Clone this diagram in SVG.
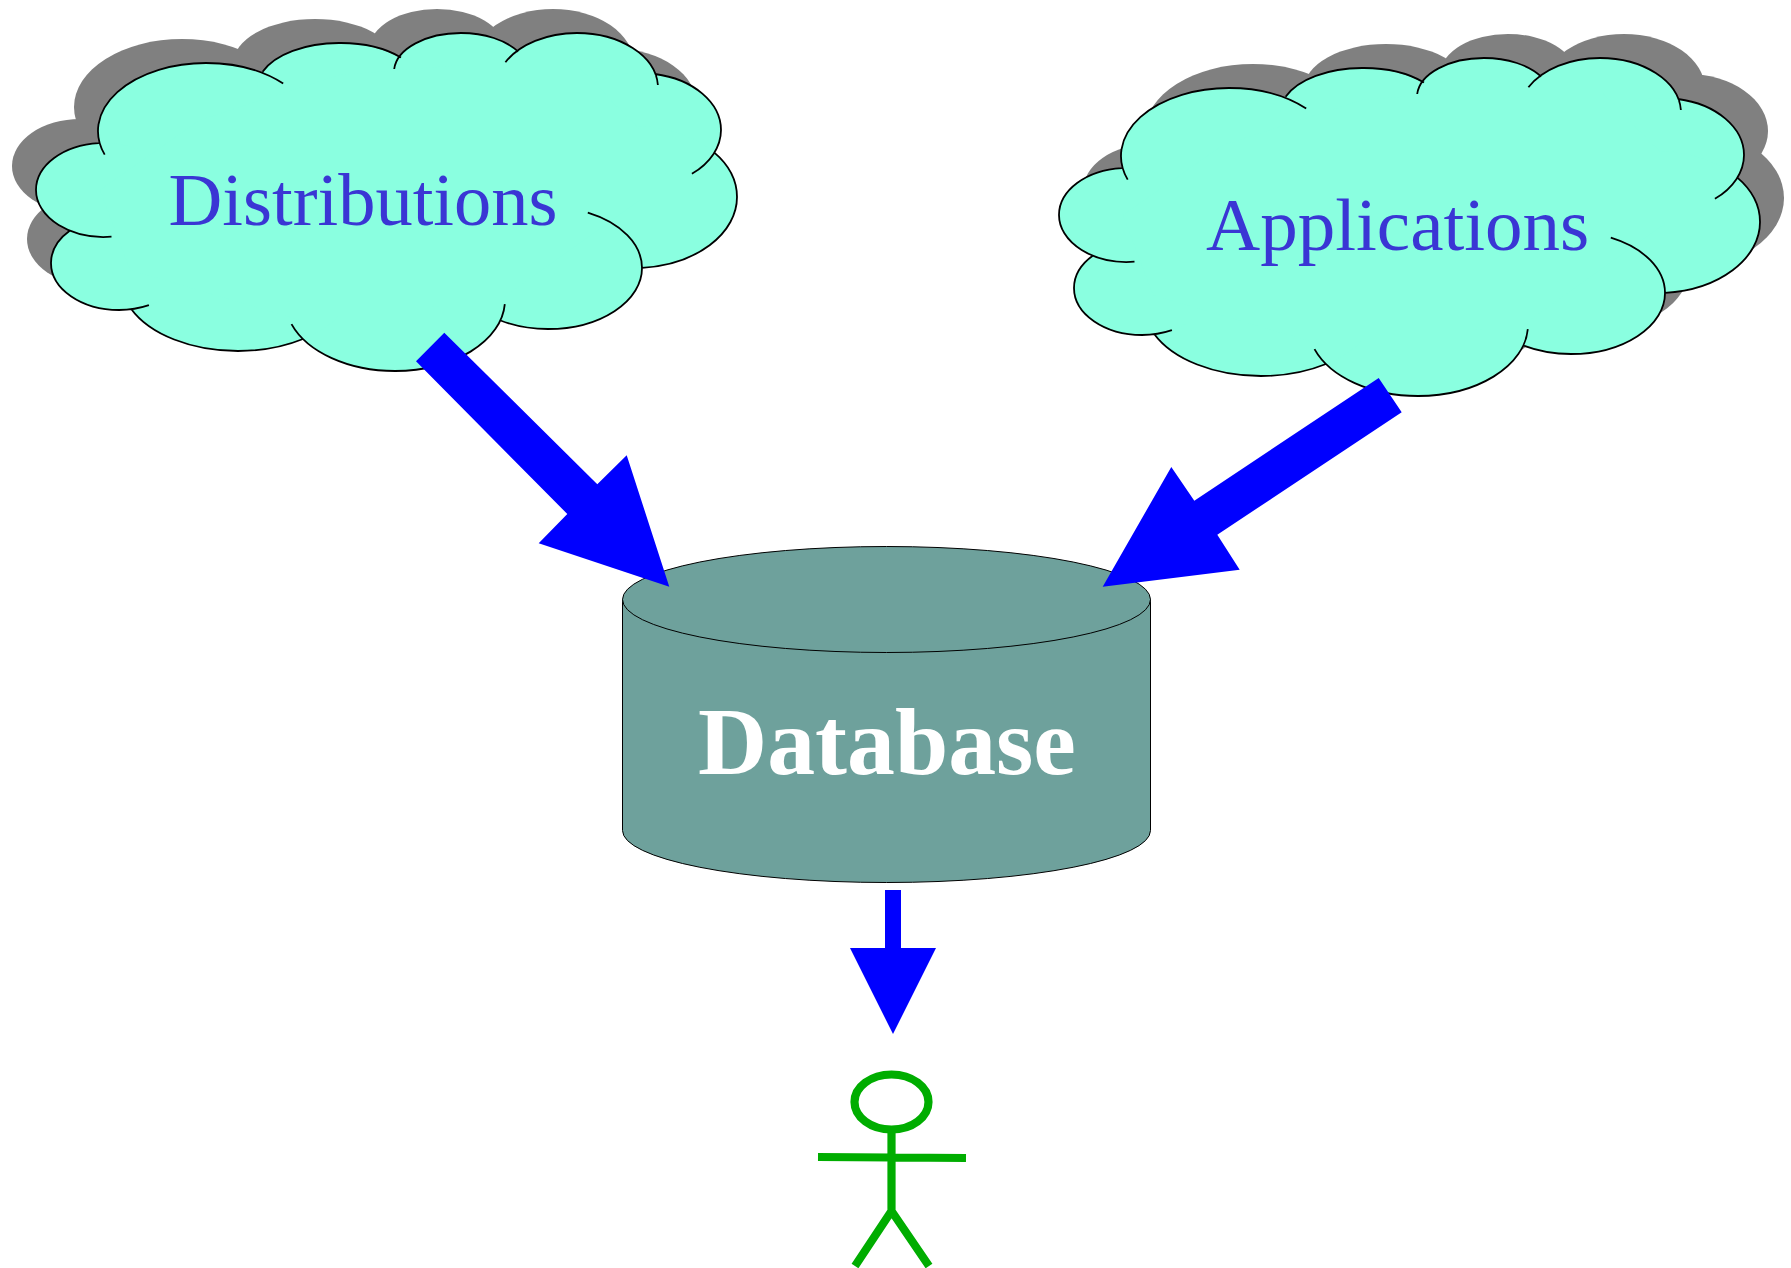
<svg xmlns="http://www.w3.org/2000/svg" xmlns:xlink="http://www.w3.org/1999/xlink" width="1791" height="1268" viewBox="0 0 1791 1268">
<style>
.shadow{fill:#808080;stroke:none}
.body{fill:#8affe0;stroke:none}
.edge{fill:none;stroke:#000;stroke-width:1.8}
.label{font-family:"Liberation Serif","Times New Roman",serif;font-size:75px;fill:#3a36d4}
.arrow{fill:#0000ff;stroke:none}
.actor{fill:none;stroke:#00ad00;stroke-width:8.2}
</style>
<defs>
<g id="cloudFill">
<ellipse cx="206" cy="131" rx="108" ry="68"/>
<ellipse cx="339" cy="88" rx="82" ry="45"/>
<ellipse cx="461" cy="72" rx="67" ry="39"/>
<ellipse cx="577" cy="88" rx="81" ry="55"/>
<ellipse cx="640" cy="130" rx="81" ry="57"/>
<ellipse cx="634" cy="197" rx="103" ry="71"/>
<ellipse cx="548" cy="268" rx="94" ry="61"/>
<ellipse cx="395" cy="300" rx="110" ry="71"/>
<ellipse cx="238" cy="280" rx="117" ry="71"/>
<ellipse cx="119" cy="263" rx="68" ry="47"/>
<ellipse cx="104" cy="190" rx="68" ry="47"/>
<polygon points="200,120 339,75 461,65 577,65 640,130 640,200 500,300 300,320 130,270 100,190"/>
</g>
<path id="cloudEdge" d="M104.7,154.6 A108,68 0 0 1 206,63 A108,68 0 0 1 283.2,83.5 M262.6,71.7 A82,45 0 0 1 339,43 A82,45 0 0 1 401,57.5 M394.2,69 A67,39 0 0 1 461,33 A67,39 0 0 1 518.2,51.7 M505.4,62.3 A81,55 0 0 1 577,33 A81,55 0 0 1 657.9,85 M655,74 A81,57 0 0 1 721,130 A81,57 0 0 1 691.9,173.8 M713.8,152.1 A103,71 0 0 1 737,197 A103,71 0 0 1 642,267.8 M587.8,212.7 A94,61 0 0 1 642,268 A94,61 0 0 1 548,329 A94,61 0 0 1 500.5,320.5 M504.8,304.1 A110,71 0 0 1 395,371 A110,71 0 0 1 291.5,324.1 M303,339 A117,71 0 0 1 238,351 A117,71 0 0 1 131,308.7 M148.9,305.2 A68,47 0 0 1 119,310 A68,47 0 0 1 51,263 A68,47 0 0 1 70,230.4 M111.5,236.7 A68,47 0 0 1 36,190 A68,47 0 0 1 98.8,143.1"/>
</defs>
<g id="distributions">
<use href="#cloudFill" class="shadow" transform="translate(-24,-24)"/>
<use href="#cloudFill" class="body"/>
<use href="#cloudEdge" class="edge"/>
<text class="label" x="168.5" y="225" textLength="389" lengthAdjust="spacingAndGlyphs">Distributions</text>
</g>
<g id="applications">
<use href="#cloudFill" class="shadow" transform="translate(1047,1)"/>
<use href="#cloudFill" class="body" transform="translate(1023,25)"/>
<use href="#cloudEdge" class="edge" transform="translate(1023,25)"/>
<text class="label" x="1206" y="250">Applications</text>
</g>
<g id="database">
<path d="M622.5,599.5 V830.5 A264,52 0 0 0 1150.5,830.5 V599.5 Z" fill="#6ea19c" stroke="#000" stroke-width="1"/>
<ellipse cx="886.5" cy="599.5" rx="264" ry="53" fill="#6ea19c" stroke="#000" stroke-width="1"/>
<text x="698" y="773.5" font-family="'Liberation Serif','Times New Roman',serif" font-size="95.8" font-weight="bold" fill="#fff">Database</text>
</g>
<g id="user">
<ellipse cx="891.5" cy="1102" rx="37" ry="27.5" class="actor"/>
<path class="actor" d="M891.5,1130 V1212 M818,1157 L966,1158 M891.5,1211 L855,1266 M891.5,1211 L929,1266"/>
</g>
<g id="connectors">
<polygon class="arrow" points="444.3,332.7 416,361.3 567.3,514 538.7,543.3 669.3,586.7 626.7,455.3 597.3,484.3"/>
<polygon class="arrow" points="1378.7,378 1401.7,412.3 1217.3,534.7 1239.7,569.7 1102.7,586.7 1171.3,467 1194.3,500.7"/>
<polygon class="arrow" points="885,890 901,890 901,948 936,948 893,1034 850,948 885,948"/>
</g>
</svg>
